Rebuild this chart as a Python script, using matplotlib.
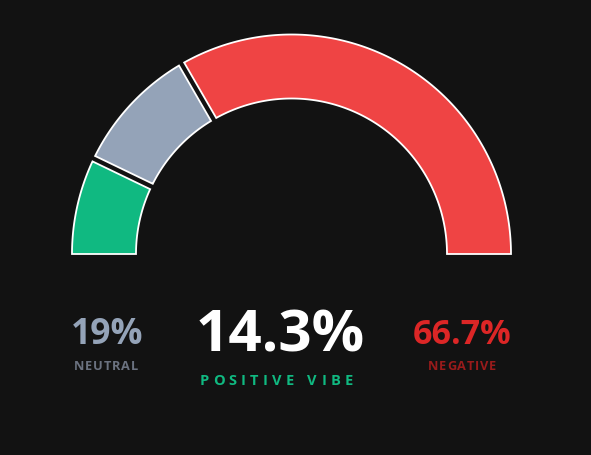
import numpy as np
import matplotlib.pyplot as plt
from matplotlib.patches import Polygon

labels = ['Positive', 'Neutral', 'Negative']
values = [14.3, 19.0, 66.7]
colors = ['#10b981', '#94a3b8', '#ef4444']

W, H = 591, 456
bg = '#121212'

fig = plt.figure(figsize=(W/100, H/100), dpi=100, facecolor=bg)
ax = fig.add_axes([0, 0, 1, 1])
ax.set_xlim(0, W)
ax.set_ylim(0, H)
ax.set_facecolor(bg)
ax.axis('off')

cx, cy = 291.5, H - 255
r_out, r_in = 219.5, 155.5
gap = 3.0  # half width of the dark gap, px


def seg(a0, a1, first, last):
    # angles in degrees, a0 > a1 (going clockwise from left)
    outer = []
    inner = []
    def off(r, a, d):
        return a - np.degrees(np.arcsin(d / r))
    for r, lst in ((r_out, outer), (r_in, inner)):
        s = a0 if first else off(r, a0, gap)
        e = a1 if last else off(r, a1, -gap)
        t = np.radians(np.linspace(s, e, 120))
        lst.extend(zip(cx + r*np.cos(t), cy + r*np.sin(t)))
    return outer + inner[::-1]


start = 180.0
for i, (v, c) in enumerate(zip(values, colors)):
    end = start - v / 100 * 180
    pts = seg(start, end, i == 0, i == len(values) - 1)
    ax.add_patch(Polygon(pts, closed=True, facecolor=c, edgecolor='white', lw=1.3, joinstyle='miter'))
    start = end

fig.canvas.draw()
rend = fig.canvas.get_renderer()


def spaced(x, y, s, spacing, **kw):
    # draw letters one by one with extra tracking, centred on x
    ws = []
    for ch in s:
        t = ax.text(0, 0, ch if ch != ' ' else 'n', **kw)
        ws.append(t.get_window_extent(rend).width * (0.55 if ch == ' ' else 1))
        t.remove()
    total = sum(ws) + spacing * (len(s) - 1)
    xx = x - total / 2
    for ch, w in zip(s, ws):
        ax.text(xx, y, ch, ha='left', va='center', **kw)
        xx += w + spacing


font = 'Open Sans'
ax.text(280, H - 337, '14.3%', color='white', fontsize=42, fontweight='bold',
        family=font, ha='center', va='center')
spaced(276, H - 381, 'POSITIVE VIBE', 4.2, color='#10b981', fontsize=10.5,
       fontweight='bold', family=font)

ax.text(107, H - 335, '19%', color='#94a3b8', fontsize=25.5, fontweight='bold',
        family=font, ha='center', va='center')
spaced(106, H - 367, 'NEUTRAL', 0.8, color='#6b7280', fontsize=9.2,
       fontweight='bold', family=font)

ax.text(462, H - 335, '66.7%', color='#dc2626', fontsize=24.5, fontweight='bold',
        family=font, ha='center', va='center')
spaced(462, H - 367, 'NEGATIVE', 0.8, color='#991b1b', fontsize=9.2,
       fontweight='bold', family=font)

fig.savefig('out.png', dpi=100, facecolor=bg)
